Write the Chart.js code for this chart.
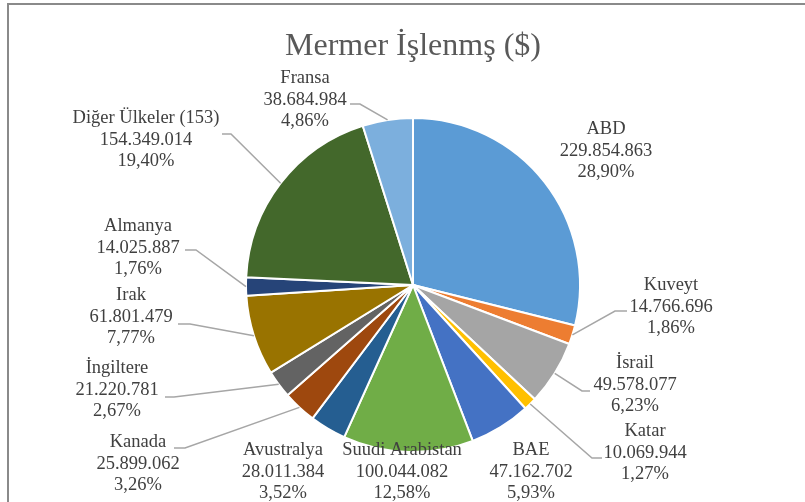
<!DOCTYPE html>
<html><head><meta charset="utf-8">
<script src="https://cdn.jsdelivr.net/npm/chart.js@4.4.0/dist/chart.umd.min.js"></script>
<style>html,body{margin:0;padding:0;background:#fff;}</style>
</head><body>
<canvas id="c" width="805" height="502"></canvas>
<script>
const chartTitle = "Mermer İşlenmş ($)";
const categories = ["ABD","Kuveyt","İsrail","Katar","BAE","Suudi Arabistan","Avustralya","Kanada","İngiltere","Irak","Almanya","Diğer Ülkeler (153)","Fransa"];
const values = [229854863,14766696,49578077,10069944,47162702,100044082,28011384,25899062,21220781,61801479,14025887,154349014,38684984];
const colors = ["#5B9BD5","#ED7D31","#A5A5A5","#FFC000","#4472C4","#70AD47","#255E91","#9E480E","#636363","#997300","#264478","#43682B","#7CAFDD"];

// label layout: centre x, y of middle text line; leader [startX, startY, elbowX]
const labelLayout = [
  {x:606, y:151, leader:null},
  {x:671, y:307, leader:[627,311,615]},
  {x:635, y:385, leader:[590,391,582]},
  {x:645, y:453, leader:[602,458,592]},
  {x:531, y:472, leader:null},
  {x:402, y:472, leader:null},
  {x:283, y:472, leader:null},
  {x:138, y:464, leader:[174,448,185]},
  {x:117, y:390, leader:[165,397,174]},
  {x:131, y:317, leader:[178,324,190]},
  {x:138, y:248, leader:[185,250,196]},
  {x:146, y:140, leader:[222,134,231]},
  {x:305, y:100, leader:[350,104,360]}
];

const total = values.reduce((a,b)=>a+b,0);
function fmtNum(n){ return n.toString().replace(/\B(?=(\d{3})+(?!\d))/g,'.'); }
function fmtPct(v){ return (v/total*100).toFixed(2).replace('.',',') + '%'; }

const deco = {
  id:'deco',
  beforeDraw(chart){
    const ctx = chart.ctx;
    ctx.save();
    ctx.fillStyle = '#fff';
    ctx.fillRect(0,0,chart.width,chart.height);
    ctx.strokeStyle = '#8a8a8a';
    ctx.lineWidth = 2;
    ctx.beginPath();
    ctx.moveTo(7,4); ctx.lineTo(805,4);
    ctx.moveTo(8,4); ctx.lineTo(8,502);
    ctx.stroke();
    ctx.fillStyle = '#595959';
    ctx.font = '32px "Liberation Serif", "Times New Roman", serif';
    ctx.textAlign = 'center';
    ctx.textBaseline = 'alphabetic';
    ctx.fillText(chartTitle, 413, 55);
    ctx.restore();
  },
  afterDatasetsDraw(chart){
    const ctx = chart.ctx;
    const meta = chart.getDatasetMeta(0);
    ctx.save();
    meta.data.forEach((arc, i) => {
      const L = labelLayout[i];
      const p = arc.getProps(['x','y','startAngle','endAngle','outerRadius'], true);
      const mid = (p.startAngle + p.endAngle)/2;
      const ex = p.x + Math.cos(mid)*p.outerRadius;
      const ey = p.y + Math.sin(mid)*p.outerRadius;
      if (L.leader){
        ctx.strokeStyle = '#a6a6a6';
        ctx.lineWidth = 1.5;
        ctx.beginPath();
        ctx.moveTo(L.leader[0], L.leader[1]);
        ctx.lineTo(L.leader[2], L.leader[1]);
        ctx.lineTo(ex, ey);
        ctx.stroke();
      }
      ctx.fillStyle = '#404040';
      ctx.font = '18.5px "Liberation Serif", "Times New Roman", serif';
      ctx.textAlign = 'center';
      ctx.textBaseline = 'middle';
      const lines = [categories[i], fmtNum(values[i]), fmtPct(values[i])];
      lines.forEach((t, k) => ctx.fillText(t, L.x, L.y + (k-1)*21.5));
    });
    ctx.restore();
  }
};

new Chart(document.getElementById('c'), {
  type:'pie',
  data:{ labels:categories, datasets:[{ data:values, backgroundColor:colors, borderColor:'#ffffff', borderWidth:2 }]},
  options:{
    responsive:false,
    animation:false,
    layout:{ padding:{ top:117, bottom:49, left:100, right:79 } },
    plugins:{ legend:{display:false}, tooltip:{enabled:false}, title:{display:false} }
  },
  plugins:[deco]
});
</script>
</body></html>
